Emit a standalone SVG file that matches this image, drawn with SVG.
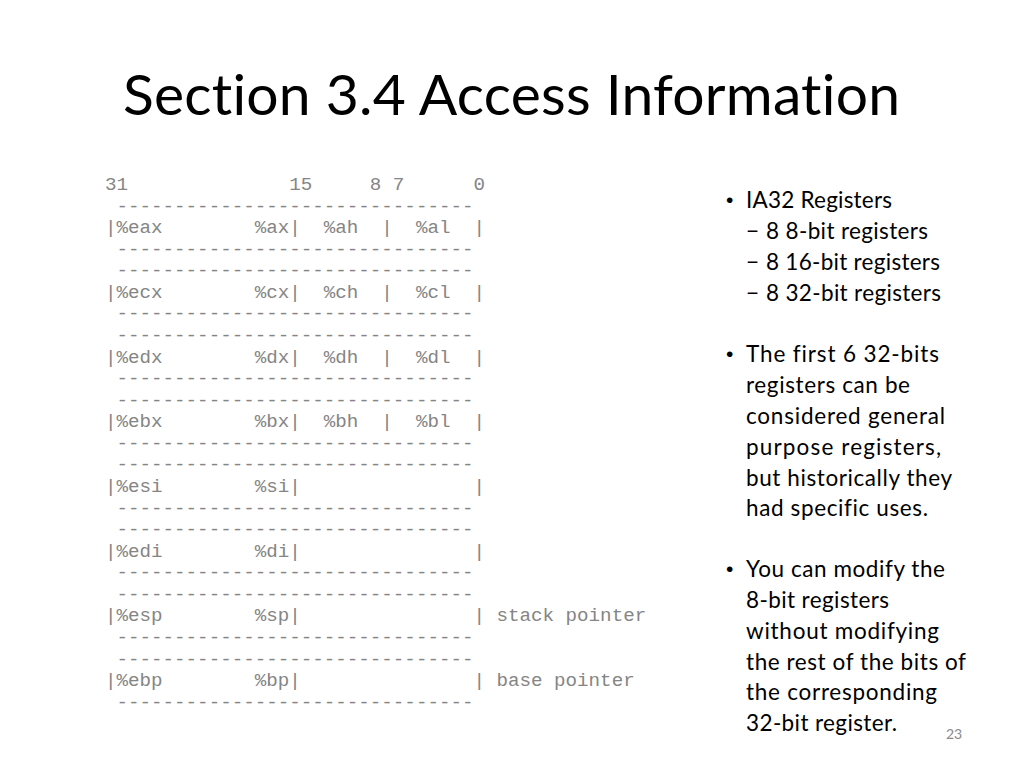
<svg xmlns="http://www.w3.org/2000/svg" width="1024" height="768" viewBox="0 0 1024 768">
<style>
.title{font-family:Lato,"Open Sans","Liberation Sans",sans-serif;font-size:57px;fill:#000;font-variant-ligatures:none}
.mono{font-family:"Liberation Mono","Courier New",monospace;font-size:19.2px;fill:#858585}
.body{font-family:Lato,"Open Sans","Liberation Sans",sans-serif;font-size:22.5px;fill:#000;font-variant-ligatures:none}
.bul{font-family:"Liberation Sans",Arial,sans-serif;font-size:21px;fill:#000}
.pg{font-family:Lato,"Open Sans","Liberation Sans",sans-serif;font-size:14px;fill:#8a8a8a}
</style>
<rect width="1024" height="768" fill="#fff"/>
<text class="title" x="123" y="115" textLength="777" lengthAdjust="spacing">Section 3.4 Access Information</text>
<g id="registers">
<text class="mono" xml:space="preserve" x="105" y="190"><tspan x="105" y="190">31              15     8 7      0</tspan><tspan x="105" y="211.6"> -------------------------------</tspan><tspan x="105" y="233.1">|%eax        %ax|  %ah  |  %al  |</tspan><tspan x="105" y="254.7"> -------------------------------</tspan><tspan x="105" y="276.3"> -------------------------------</tspan><tspan x="105" y="297.9">|%ecx        %cx|  %ch  |  %cl  |</tspan><tspan x="105" y="319.4"> -------------------------------</tspan><tspan x="105" y="341"> -------------------------------</tspan><tspan x="105" y="362.6">|%edx        %dx|  %dh  |  %dl  |</tspan><tspan x="105" y="384.1"> -------------------------------</tspan><tspan x="105" y="405.7"> -------------------------------</tspan><tspan x="105" y="427.3">|%ebx        %bx|  %bh  |  %bl  |</tspan><tspan x="105" y="448.8"> -------------------------------</tspan><tspan x="105" y="470.4"> -------------------------------</tspan><tspan x="105" y="492">|%esi        %si|               |</tspan><tspan x="105" y="513.6"> -------------------------------</tspan><tspan x="105" y="535.1"> -------------------------------</tspan><tspan x="105" y="556.7">|%edi        %di|               |</tspan><tspan x="105" y="578.3"> -------------------------------</tspan><tspan x="105" y="599.8"> -------------------------------</tspan><tspan x="105" y="621.4">|%esp        %sp|               | stack pointer</tspan><tspan x="105" y="643"> -------------------------------</tspan><tspan x="105" y="664.5"> -------------------------------</tspan><tspan x="105" y="686.1">|%ebp        %bp|               | base pointer</tspan><tspan x="105" y="707.7"> -------------------------------</tspan></text>
</g>
<g id="notes">
<text class="bul" x="726" y="207">•</text>
<text class="body" x="746" y="208" textLength="146" lengthAdjust="spacing">IA32 Registers</text>
<text class="body" x="746" y="239">−</text>
<text class="body" x="766" y="239" textLength="162" lengthAdjust="spacing">8 8-bit registers</text>
<text class="body" x="746" y="270">−</text>
<text class="body" x="766" y="270" textLength="174" lengthAdjust="spacing">8 16-bit registers</text>
<text class="body" x="746" y="301">−</text>
<text class="body" x="766" y="301" textLength="175" lengthAdjust="spacing">8 32-bit registers</text>
<text class="bul" x="726" y="361">•</text>
<text class="body" x="746" y="362" textLength="193" lengthAdjust="spacing">The first 6 32-bits</text>
<text class="body" x="746" y="393" textLength="164" lengthAdjust="spacing">registers can be</text>
<text class="body" x="746" y="424" textLength="199" lengthAdjust="spacing">considered general</text>
<text class="body" x="746" y="455" textLength="195" lengthAdjust="spacing">purpose registers,</text>
<text class="body" x="746" y="486" textLength="206" lengthAdjust="spacing">but historically they</text>
<text class="body" x="746" y="516" textLength="182" lengthAdjust="spacing">had specific uses.</text>
<text class="bul" x="726" y="576">•</text>
<text class="body" x="746" y="577" textLength="199" lengthAdjust="spacing">You can modify the</text>
<text class="body" x="746" y="608" textLength="143" lengthAdjust="spacing">8-bit registers</text>
<text class="body" x="746" y="639" textLength="193" lengthAdjust="spacing">without modifying</text>
<text class="body" x="746" y="670" textLength="220" lengthAdjust="spacing">the rest of the bits of</text>
<text class="body" x="746" y="700" textLength="191" lengthAdjust="spacing">the corresponding</text>
<text class="body" x="746" y="731" textLength="151" lengthAdjust="spacing">32-bit register.</text>
<text class="pg" x="946" y="739">23</text>
</g>
</svg>
